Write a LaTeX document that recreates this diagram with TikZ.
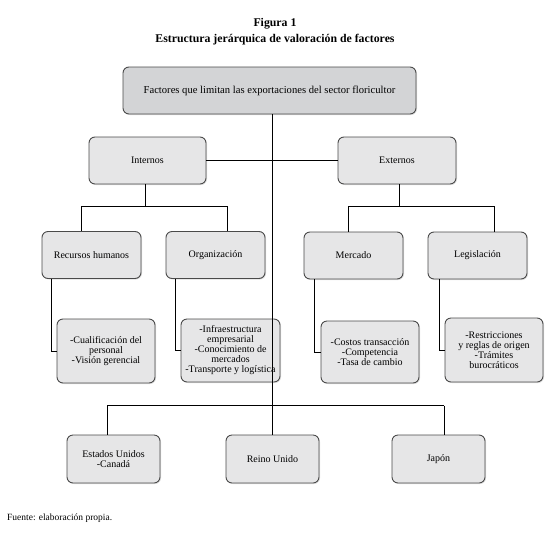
\documentclass[tikz,border=0pt]{standalone}
\usepackage{fontspec}
\setmainfont{Liberation Serif}
\usepackage{tikz}
\usetikzlibrary{shapes,calc,shadows,positioning}

\definecolor{boxdark}{HTML}{D3D4D6}
\definecolor{boxlight}{HTML}{E6E6E7}
\definecolor{boxline}{HTML}{4A4A4A}

\tikzset{
	box/.style={rectangle, rounded corners=6pt, draw=boxline, line width=0.9pt,
		fill=boxlight, align=center, inner sep=1pt,
		font=\fontsize{10}{10}\selectfont,
		drop shadow={shadow xshift=1pt, shadow yshift=-1pt, opacity=0.25}},
	topbox/.style={box, fill=boxdark, font=\fontsize{10.6}{11}\selectfont},
	link/.style={line width=0.9pt, black},
}

\begin{document}
\begin{tikzpicture}[x=1pt,y=-1pt]
	\useasboundingbox (0,0) rectangle (556,541);

	\node (fig) at (275,24) {\fontsize{11.8}{13}\selectfont\bfseries Figura 1};
	\node (tit) at (275,40) {\fontsize{11.8}{13}\selectfont\bfseries Estructura jerárquica de valoración de factores};

	% levels
	\node (top) [topbox, minimum width=293pt, minimum height=47pt] at (269.5,90.5)
		{Factores que limitan las exportaciones del sector floricultor};
	\node (int) [box, minimum width=117pt, minimum height=47pt] at (147.5,160.5) {Internos};
	\node (ext) [box, minimum width=118pt, minimum height=47pt] at (397,160.5) {Externos};

	\node (rh) [box, minimum width=99pt, minimum height=47pt] at (91.5,255) {Recursos humanos};
	\node (org) [box, minimum width=99pt, minimum height=47pt] at (215.5,255) {Organización};
	\node (mer) [box, minimum width=99pt, minimum height=47pt] at (353.5,255.5) {Mercado};
	\node (leg) [box, minimum width=99pt, minimum height=47pt] at (477.5,255.5) {Legislación};

	\node (rhx) [box, minimum width=98pt, minimum height=64pt] at (106,351)
		{-Cualificación del\\personal\\-Visión gerencial};
	\node (orgx) [box, minimum width=99pt, minimum height=63pt] at (230.5,350.5)
		{-Infraestructura\\empresarial\\-Conocimiento de\\mercados\\-Transporte y logística};
	\node (merx) [box, minimum width=98pt, minimum height=62pt] at (370,352)
		{-Costos transacción\\-Competencia\\-Tasa de cambio};
	\node (legx) [box, minimum width=98pt, minimum height=64pt] at (494,350)
		{-Restricciones\\y reglas de origen\\-Trámites\\burocráticos};

	\node (usa) [box, minimum width=93pt, minimum height=48pt] at (113.5,459) {Estados Unidos\\-Canadá};
	\node (ru) [box, minimum width=93pt, minimum height=48pt] at (272.5,459) {Reino Unido};
	\node (jap) [box, minimum width=93pt, minimum height=48pt] at (438.5,459) {Japón};

	\node (src) [anchor=west, inner sep=0pt] at (7,518) {\fontsize{9.5}{11}\selectfont Fuente: elaboración propia.};

	% connectors
	\draw[link] (ru.north |- top.south) -- (ru.north);
	\draw[link] (int) -- (ext);
	\draw[link] ($(int.south)+(-2.5,0)$) -- ++(0,22) -| ($(rh.north)+(-10.5,0)$);
	\draw[link] ($(int.south)+(-2.5,0)$) ++(0,22) -| ($(org.north)+(11.5,0)$);
	\draw[link] ($(ext.south)+(2,0)$) -- ++(0,22) -| ($(mer.north)+(-5.5,0)$);
	\draw[link] ($(ext.south)+(2,0)$) ++(0,22) -| ($(leg.north)+(16.5,0)$);
	\draw[link] ($(rh.south west)+(10,0)$) |- (rhx.west);
	\draw[link] ($(org.south west)+(10,0)$) |- (orgx.west);
	\draw[link] ($(mer.south west)+(11,0)$) |- (merx.west);
	\draw[link] ($(leg.south west)+(12,0)$) |- (legx.west);
	\draw[link] ($(usa.north)+(-6.5,-29)$) -- ($(jap.north)+(5.5,-29)$);
	\draw[link] ($(usa.north)+(-6.5,-29)$) -- ($(usa.north)+(-6.5,0)$);
	\draw[link] ($(jap.north)+(5.5,-29)$) -- ($(jap.north)+(5.5,0)$);
\end{tikzpicture}
\end{document}
